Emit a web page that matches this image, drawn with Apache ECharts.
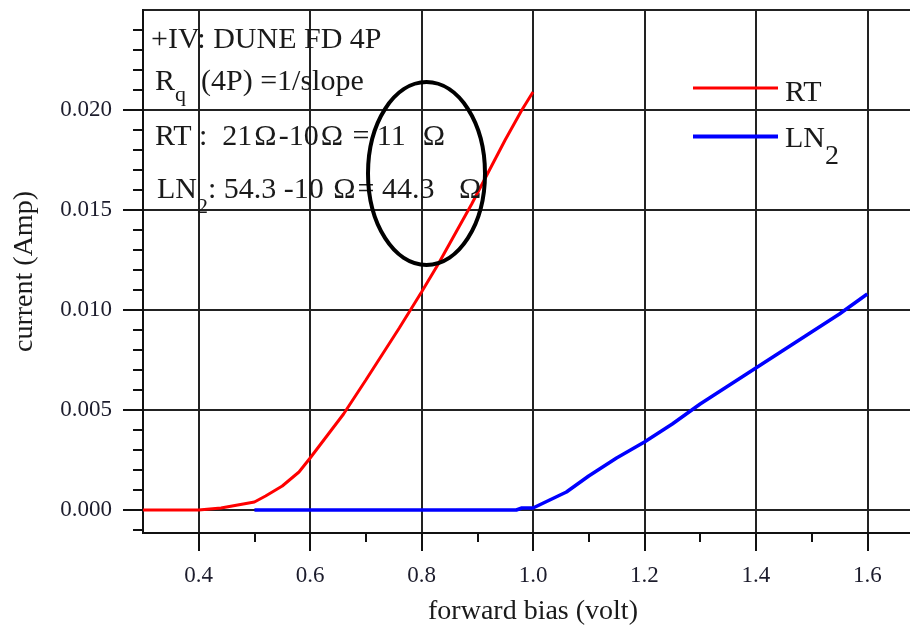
<!DOCTYPE html>
<html>
<head>
<meta charset="utf-8">
<script src="https://cdn.jsdelivr.net/npm/echarts@6/dist/echarts.min.js"></script>
<style>html,body{margin:0;padding:0;background:#fff}#c{width:910px;height:632px}</style>
</head>
<body>
<div id="c"></div>
<script>
// ---- data ----
const voltsRT = [0.30,0.35,0.40,0.44,0.48,0.50,0.52,0.55,0.58,0.60,0.63,0.66,0.70,0.73,0.76,0.78,0.80,0.83,0.86,0.89,0.92,0.95,0.98,1.00];
const currentRT = [0,0,0,0.0001,0.0003,0.0004,0.0007,0.0012,0.0019,0.0026,0.0037,0.0048,0.0065,0.0078,0.0091,0.0100,0.0109,0.0123,0.0138,0.0153,0.0169,0.0185,0.0200,0.0209];
const voltsLN2 = [0.50,0.60,0.70,0.80,0.90,0.97,0.98,1.00,1.03,1.06,1.10,1.15,1.20,1.25,1.30,1.35,1.40,1.45,1.50,1.55,1.60];
const currentLN2 = [0,0,0,0,0,0,0.0001,0.0001,0.0005,0.0009,0.0017,0.0026,0.0034,0.0043,0.0053,0.0062,0.0071,0.0080,0.0089,0.0098,0.0108];
const seriesNames = ['RT', 'LN2'];
const xTickLabels = ['0.4','0.6','0.8','1.0','1.2','1.4','1.6'];
const yTickLabels = ['0.000','0.005','0.010','0.015','0.020'];
const xTitle = 'forward bias (volt)';
const yTitle = 'current (Amp)';

const FONT = "'Liberation Serif','Times New Roman',serif";
const INK = '#1a1a1a';
const chart = echarts.init(document.getElementById('c'), null, {renderer: 'canvas'});

const pairs = (xs, ys) => xs.map((x, i) => [x, ys[i]]);

const m30 = {fontSize: 30, fontFamily: FONT, lineHeight: 40, fill: INK};
const om = {fontSize: 30, fontFamily: FONT, lineHeight: 40, fill: INK, padding: [0, 2, 0, 2]};
function sub(p) { return {fontSize: 22, fontFamily: FONT, lineHeight: 6, padding: [p, 0, 0, 0], fill: INK}; }

function annot(x, y, text, rich) {
  return {type: 'text', x: x, y: y, z: 50, silent: true,
    style: {text: text, fontSize: 30, fontFamily: FONT, fill: INK, verticalAlign: 'middle', align: 'left', rich: rich}};
}

const hasEllipse = echarts.graphic && echarts.graphic.getShapeClass && echarts.graphic.getShapeClass('ellipse');
const ellipseEl = hasEllipse ? {
  type: 'ellipse', z: 100, silent: true,
  shape: {cx: 426.5, cy: 173.5, rx: 58.5, ry: 91.5},
  style: {fill: 'none', stroke: '#000', lineWidth: 4}
} : {
  type: 'circle', z: 100, silent: true, x: 426.5, y: 173.5, scaleY: 91.5 / 58.5,
  shape: {cx: 0, cy: 0, r: 58.5}, style: {fill: 'none', stroke: '#000', lineWidth: 4, strokeNoScale: true}
};

const option = {
  animation: false,
  backgroundColor: '#fff',
  grid: {left: 143, top: 10, width: 780, height: 523, show: true, borderColor: '#222', borderWidth: 2,
         backgroundColor: 'transparent', containLabel: false, outerBoundsMode: 'none'},
  xAxis: {
    type: 'value', min: 0.3, max: 1.7, splitNumber: 7,
    name: xTitle, nameLocation: 'middle', nameGap: 65, nameMoveOverlap: false,
    nameTextStyle: {fontFamily: FONT, fontSize: 28, color: INK},
    axisLine: {show: true, onZero: false, lineStyle: {color: '#111', width: 2}},
    axisTick: {show: true, inside: false, length: 18, lineStyle: {color: '#111', width: 2},
               customValues: xTickLabels.map(Number)},
    minorTick: {show: true, splitNumber: 2, length: 9, lineStyle: {color: '#111', width: 2}},
    splitLine: {show: true, lineStyle: {color: '#222', width: 2}},
    axisLabel: {margin: 31, fontFamily: FONT, fontSize: 23, color: '#1c1c2c',
                customValues: xTickLabels.map(Number),
                formatter: v => { const s = Number(v).toFixed(1); return xTickLabels.includes(s) ? s : ''; }}
  },
  yAxis: {
    type: 'value', min: -0.00115, max: 0.025, splitNumber: 5,
    name: yTitle, nameLocation: 'middle', nameGap: 104, nameRotate: 90, nameMoveOverlap: false,
    nameTextStyle: {fontFamily: FONT, fontSize: 28, color: INK},
    axisLine: {show: true, onZero: false, lineStyle: {color: '#111', width: 2}},
    axisTick: {show: true, inside: false, length: 20, lineStyle: {color: '#111', width: 2},
               customValues: yTickLabels.map(Number)},
    minorTick: {show: true, splitNumber: 5, length: 10, lineStyle: {color: '#111', width: 2}},
    splitLine: {show: true, lineStyle: {color: '#222', width: 2}},
    axisLabel: {margin: 31, fontFamily: FONT, fontSize: 23, color: '#1c1c2c',
                customValues: yTickLabels.map(Number),
                formatter: v => { const s = Number(v).toFixed(3); return yTickLabels.includes(s) ? s : ''; }}
  },
  legend: [
    {data: [seriesNames[0]], left: 693, top: 68, orient: 'vertical', padding: 0, selectedMode: false,
     icon: 'rect', itemWidth: 85, itemHeight: 3,
     formatter: () => '{m|RT}',
     textStyle: {fontFamily: FONT, fontSize: 30, color: INK,
       rich: {m: {fontFamily: FONT, fontSize: 30, lineHeight: 30, padding: [10, 0, 0, 2], color: INK}}}},
    {data: [seriesNames[1]], left: 693, top: 102, orient: 'vertical', padding: 0, selectedMode: false,
     icon: 'rect', itemWidth: 85, itemHeight: 4,
     formatter: () => '{m|LN}{s|2}',
     textStyle: {fontFamily: FONT, fontSize: 30, color: INK,
       rich: {m: {fontFamily: FONT, fontSize: 30, lineHeight: 30, padding: [6, 0, 0, 2], color: INK},
              s: {fontFamily: FONT, fontSize: 28, lineHeight: 10, padding: [41, 0, 0, 0], color: INK}}}}
  ],
  series: [
    {name: seriesNames[0], type: 'line', data: pairs(voltsRT, currentRT), symbol: 'none', showSymbol: false,
     lineStyle: {color: '#ff0000', width: 3}, itemStyle: {color: '#ff0000'}, z: 3},
    {name: seriesNames[1], type: 'line', data: pairs(voltsLN2, currentLN2), symbol: 'none', showSymbol: false,
     lineStyle: {color: '#0000ff', width: 3.5}, itemStyle: {color: '#0000ff'}, z: 4}
  ],
  graphic: [
    annot(151, 40, '{m|+IV: DUNE FD 4P}', {m: m30}),
    annot(155, 82, '{m|R}{s|q}{m|  (4P) =1/slope}', {m: m30, s: sub(27)}),
    annot(155, 137, '{m|RT :  21}{o|Ω}{m|-10}{o|Ω}{m| = 11  }{o|Ω}', {m: m30, o: om}),
    annot(157, 190, '{m|LN}{s|2}{m|: 54.3 -10 }{o|Ω}{m|= 44.3   }{o|Ω}', {m: m30, o: om, s: sub(35)}),
    ellipseEl
  ]
};
chart.setOption(option);
</script>
</body>
</html>
